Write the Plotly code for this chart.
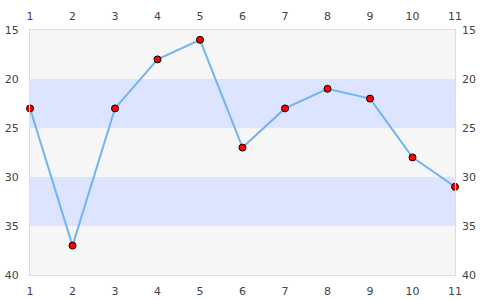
import plotly.graph_objects as go

x_vals = [1, 2, 3, 4, 5, 6, 7, 8, 9, 10, 11]
y_vals = [23, 37, 23, 18, 16, 27, 23, 21, 22, 28, 31]
x_ticks = [1, 2, 3, 4, 5, 6, 7, 8, 9, 10, 11]
y_ticks = [15, 20, 25, 30, 35, 40]
bands = [(20, 25), (30, 35)]

font = dict(family="DejaVu Sans", size=11, color="#444")

fig = go.Figure()
fig.add_trace(go.Scatter(
    x=x_vals, y=y_vals, mode="lines+markers",
    line=dict(color="#72b4f2", width=2),
    marker=dict(color="#ff0000", size=7, line=dict(color="#000", width=1)),
    cliponaxis=False, showlegend=False, hoverinfo="skip",
))
fig.add_trace(go.Scatter(
    x=x_vals, y=y_vals, xaxis="x2", yaxis="y2", mode="markers",
    marker=dict(opacity=0), showlegend=False, hoverinfo="skip",
))

for lo, hi in bands:
    fig.add_shape(type="rect", xref="paper", yref="y", x0=0, x1=1, y0=lo, y1=hi,
                  fillcolor="#dde4ff", line=dict(width=0), layer="below")

common = dict(showgrid=False, zeroline=False, tickfont=font, ticks="", automargin=False)
fig.update_layout(
    width=485, height=300,
    margin=dict(l=30, r=30, t=30, b=25),
    paper_bgcolor="white", plot_bgcolor="#f6f6f6",
    xaxis=dict(range=[1, 11], tickvals=x_ticks, showline=True, linecolor="#dddddd",
               mirror=True, ticklabelstandoff=6, **common),
    xaxis2=dict(range=[1, 11], tickvals=x_ticks, overlaying="x", side="top",
                anchor="y", ticklabelstandoff=7, **common),
    yaxis=dict(range=[40, 15], tickvals=y_ticks, showline=True, linecolor="#dddddd",
               mirror=True, ticklabelstandoff=8, **common),
    yaxis2=dict(range=[40, 15], tickvals=y_ticks, overlaying="y", side="right",
                anchor="x", ticklabelstandoff=6, **common),
)
fig.write_html("out.html")
